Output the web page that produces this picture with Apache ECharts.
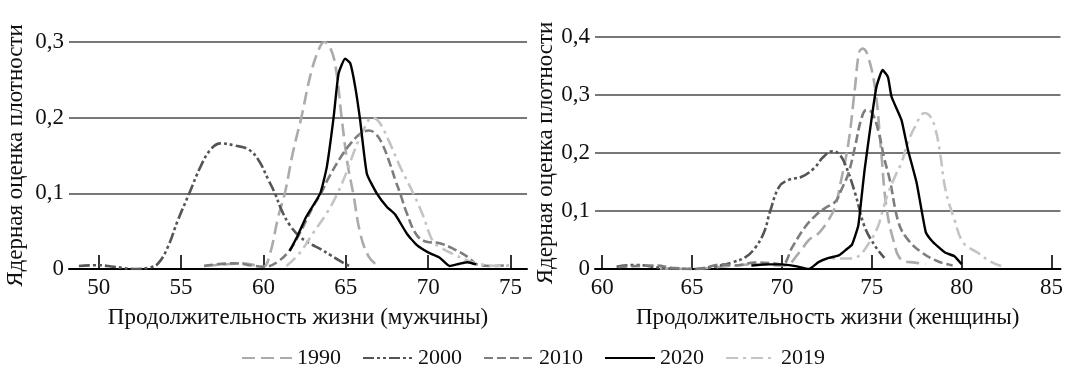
<!DOCTYPE html>
<html><head><meta charset="utf-8">
<script src="https://cdn.jsdelivr.net/npm/echarts@6/dist/echarts.min.js"></script>
<style>html,body{margin:0;padding:0;background:#fff}#c{width:1066px;height:370px}</style>
</head><body><div id="c"></div>
<script>
// ---- data ----
const seriesNames = ['1990', '2000', '2010', '2020', '2019'];
const xTicksM = [50, 55, 60, 65, 70, 75];
const xTicksF = [60, 65, 70, 75, 80, 85];
const yLabelsM = ['0', '0,1', '0,2', '0,3'];
const yLabelsF = ['0', '0,1', '0,2', '0,3', '0,4'];
const yName = 'Ядерная оценка плотности';
const xNameM = 'Продолжительность жизни (мужчины)';
const xNameF = 'Продолжительность жизни (женщины)';

// men
const m1990 = [[56.4,0.004],[57.6,0.006],[58.7,0.0075],[59.5,0.005],[60.0,0.003],[60.4,0.02],[60.9,0.069],[61.3,0.10],[61.8,0.155],[62.3,0.20],[62.9,0.26],[63.4,0.292],[63.7,0.30],[64.1,0.29],[64.4,0.265],[64.75,0.20],[65.1,0.14],[65.45,0.10],[65.9,0.045],[66.4,0.016],[66.9,0.005]];
const m2000 = [[48.8,0.004],[50.0,0.005],[50.9,0.003],[52.3,0.0],[53.1,0.002],[53.6,0.007],[54.2,0.029],[54.8,0.064],[55.5,0.1],[56.2,0.136],[56.8,0.158],[57.4,0.166],[58.3,0.163],[59.1,0.158],[59.7,0.144],[60.3,0.118],[60.7,0.1],[61.1,0.078],[61.6,0.058],[62.2,0.043],[62.8,0.034],[63.5,0.026],[64.1,0.018],[64.7,0.010],[65.2,0.004]];
const m2010 = [[56.4,0.004],[58.2,0.0075],[59.5,0.004],[60.1,0.003],[60.9,0.01],[61.6,0.025],[62.2,0.047],[63.0,0.082],[63.5,0.1],[63.9,0.118],[64.7,0.148],[65.3,0.166],[65.9,0.179],[66.4,0.183],[66.8,0.179],[67.2,0.166],[67.7,0.138],[68.0,0.118],[68.3,0.10],[68.7,0.074],[69.3,0.045],[69.9,0.036],[70.7,0.034],[71.5,0.027],[72.4,0.016],[73.1,0.005],[73.9,0.004],[74.9,0.005]];
const m2020 = [[61.6,0.024],[62.1,0.045],[62.6,0.069],[63.45,0.1],[63.85,0.135],[64.26,0.2],[64.56,0.258],[64.96,0.278],[65.27,0.272],[65.57,0.241],[65.87,0.197],[66.28,0.126],[66.88,0.1],[67.5,0.082],[68.0,0.072],[68.7,0.047],[69.3,0.032],[70.0,0.022],[70.7,0.015],[71.3,0.004],[71.9,0.007],[72.4,0.009],[72.9,0.006]];
const m2019 = [[61.4,0.004],[62.2,0.021],[63.0,0.047],[63.85,0.074],[64.5,0.1],[65.1,0.131],[65.5,0.155],[66.1,0.185],[66.6,0.2],[67.0,0.195],[67.6,0.17],[68.3,0.135],[69.1,0.1],[69.7,0.07],[70.3,0.036],[70.8,0.028],[71.5,0.02],[72.3,0.012],[73.0,0.007],[74.3,0.004],[75.1,0.005]];

// women
const f1990 = [[63.2,0.001],[65.1,0.0],[66.6,0.004],[67.7,0.007],[69.0,0.008],[69.9,0.006],[70.2,0.006],[70.95,0.028],[71.5,0.05],[72.05,0.062],[72.6,0.085],[72.97,0.108],[73.3,0.154],[73.7,0.217],[74.07,0.314],[74.3,0.374],[74.5,0.38],[74.8,0.366],[75.2,0.308],[75.5,0.211],[75.8,0.11],[76.2,0.05],[76.65,0.016],[77.4,0.011],[78.0,0.009]];
const f2000 = [[60.8,0.004],[61.8,0.007],[63.6,0.001],[65.2,0.0],[66.3,0.0045],[67.2,0.011],[68.0,0.021],[68.5,0.036],[69.0,0.063],[69.35,0.1],[69.85,0.142],[70.4,0.154],[71.1,0.159],[71.8,0.174],[72.3,0.193],[72.8,0.203],[73.15,0.199],[73.5,0.182],[74.07,0.131],[74.6,0.073],[75.2,0.039],[75.7,0.019]];
const f2010 = [[60.9,0.0035],[63.0,0.006],[63.9,0.002],[65.2,0.0],[66.7,0.008],[67.4,0.006],[68.5,0.011],[69.5,0.01],[70.0,0.0075],[70.6,0.039],[71.3,0.073],[71.9,0.093],[72.4,0.105],[72.97,0.116],[73.3,0.136],[73.7,0.165],[74.07,0.211],[74.4,0.257],[74.7,0.274],[75.0,0.27],[75.35,0.24],[75.7,0.19],[76.0,0.154],[76.5,0.079],[77.0,0.051],[77.8,0.028],[78.7,0.013],[79.5,0.006]];
const f2020 = [[68.3,0.006],[69.2,0.008],[70.0,0.008],[70.75,0.005],[71.5,0.0],[72.05,0.012],[72.6,0.019],[73.2,0.024],[73.6,0.034],[73.9,0.042],[74.25,0.075],[74.4,0.115],[74.6,0.171],[74.98,0.257],[75.26,0.314],[75.6,0.343],[75.9,0.331],[76.1,0.297],[76.65,0.257],[77.0,0.207],[77.5,0.148],[78.0,0.064],[78.3,0.05],[78.7,0.038],[79.1,0.028],[79.6,0.022],[80.0,0.008]];
const f2019 = [[71.9,0.01],[72.6,0.018],[73.6,0.018],[74.2,0.021],[74.7,0.038],[75.3,0.07],[75.6,0.1],[75.9,0.13],[76.3,0.16],[76.65,0.183],[77.0,0.217],[77.4,0.245],[77.94,0.269],[78.2,0.265],[78.5,0.246],[78.8,0.2],[79.1,0.137],[79.6,0.085],[80.1,0.045],[80.9,0.028],[81.6,0.013],[82.2,0.005]];

const menData = [m1990, m2000, m2010, m2020, m2019];
const womenData = [f1990, f2000, f2010, f2020, f2019];

// ---- styles ----
const FONT = 'Liberation Serif';
const styles = [
  {color: '#ababab', width: 2.6, type: [13, 6], smooth: 0.4},
  {color: '#555555', width: 2.6, type: [11, 3, 3, 3, 3, 3], smooth: 0.4},
  {color: '#7d7d7d', width: 2.6, type: [9, 4], smooth: 0.4},
  {color: '#000000', width: 2.4, type: 'solid', smooth: 0.15},
  {color: '#c4c4c4', width: 2.6, type: [12, 5, 3, 5], smooth: 0.4}
];

const chart = echarts.init(document.getElementById('c'), null, {renderer: 'canvas'});

function xAxisCfg(gridIndex, min, max, ticks, name) {
  return {
    type: 'value', gridIndex, min, max,
    name, nameLocation: 'middle', nameGap: 37,
    nameTextStyle: {fontFamily: FONT, fontSize: 23, color: '#111'},
    axisLine: {show: true, onZero: false, lineStyle: {color: '#000', width: 2}},
    axisTick: {show: true, inside: true, length: 14, customValues: ticks, lineStyle: {color: '#000', width: 1.6}},
    axisLabel: {customValues: ticks, fontFamily: FONT, fontSize: 23, color: '#111', margin: 7},
    splitLine: {show: false}
  };
}
function yAxisCfg(gridIndex, max, labels, nameGap) {
  return {
    type: 'value', gridIndex, min: 0, max, interval: 0.1,
    name: yName, nameLocation: 'middle', nameGap, nameRotate: 90,
    nameTextStyle: {fontFamily: FONT, fontSize: 23, color: '#111'},
    axisLine: {show: false}, axisTick: {show: false},
    axisLabel: {fontFamily: FONT, fontSize: 23, color: '#111', margin: 5,
      formatter: v => labels[Math.round(v * 10)]},
    splitLine: {show: true, lineStyle: {color: '#777', width: 2}}
  };
}

const series = [];
[menData, womenData].forEach((set, gi) => {
  set.forEach((d, i) => {
    const s = styles[i];
    series.push({
      name: seriesNames[i], type: 'line', xAxisIndex: gi, yAxisIndex: gi,
      data: d, symbol: 'none', showSymbol: false, smooth: s.smooth,
      lineStyle: {color: s.color, width: s.width, type: s.type},
      itemStyle: {color: s.color},
      z: i === 3 ? 5 : 3
    });
  });
});

chart.setOption({
  animation: false,
  backgroundColor: '#fff',
  legend: {
    data: seriesNames, top: 342, left: 'center',
    itemWidth: 50, itemHeight: 14, itemGap: 21,
    itemStyle: {opacity: 0},
    textStyle: {fontFamily: FONT, fontSize: 22, color: '#111'}
  },
  grid: [
    {left: 69, width: 458, top: 42, height: 227},
    {left: 595, width: 468, top: 37, height: 232}
  ],
  xAxis: [
    xAxisCfg(0, 48.2, 76, xTicksM, xNameM),
    xAxisCfg(1, 59.6, 85.5, xTicksF, xNameF)
  ],
  yAxis: [
    yAxisCfg(0, 0.3, yLabelsM, 42),
    yAxisCfg(1, 0.4, yLabelsF, 38)
  ],
  series
});
</script></body></html>
